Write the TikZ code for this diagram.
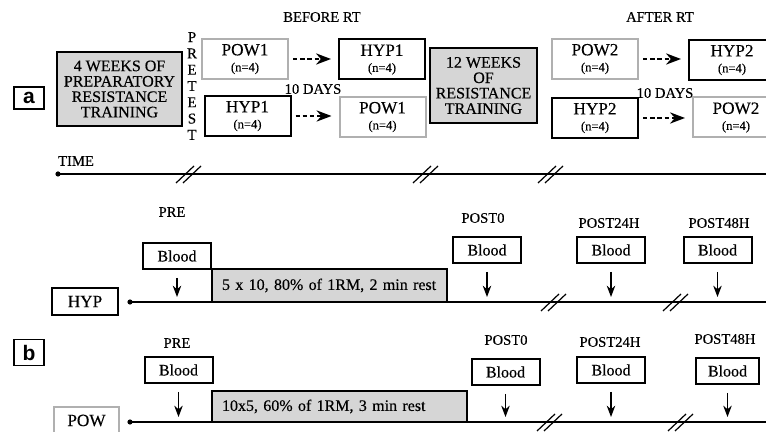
\documentclass[tikz,border=0pt]{standalone}
\usepackage{fontspec}
\setmainfont{Liberation Serif}[FakeBold=0.35]
\newfontfamily\tagfont{Liberation Sans}
\usetikzlibrary{arrows.meta}
\definecolor{trainc}{HTML}{D6D6D6}
\definecolor{powc}{HTML}{B0B0B0}

\begin{document}
\begin{tikzpicture}[x=0.5pt, y=-0.5pt, >=Stealth,
      grp/.style={draw, line width=1pt, minimum width=43pt, minimum height=20pt,
                  align=center, inner sep=0pt, font=\fontsize{8.6}{9}\selectfont},
      powgrp/.style={grp, draw=powc},
      train/.style={draw, line width=1.3pt, fill=trainc, align=center, inner sep=0pt,
                    font=\fontsize{8}{7.7}\selectfont},
      blood/.style={draw, line width=1pt, minimum width=34pt, minimum height=13pt,
                    inner sep=0pt, font=\fontsize{8}{8}\selectfont},
      sess/.style={draw, line width=1.3pt, fill=trainc, inner xsep=5pt, inner ysep=0pt,
                   align=left, font=\fontsize{8}{8}\selectfont},
      lbl/.style={font=\fontsize{7.3}{7.3}\selectfont, inner sep=0pt},
      tag/.style={draw, line width=0.9pt, minimum width=15pt, inner sep=0pt,
                  font=\tagfont\bfseries\fontsize{10.5}{10.5}\selectfont},
      dot/.style={circle, fill, inner sep=0pt, minimum size=2.6pt},
      axis/.style={line width=0.6pt},
      wait/.style={->, line width=1pt, dash pattern=on 2.2pt off 1.4pt,
                   shorten <=2pt, shorten >=3.5pt},
      drop/.style={->, line width=0.6pt, shorten <=4pt, shorten >=2.5pt},
      brk/.style={line width=0.6pt}]
    \useasboundingbox (0,0) rectangle (766,432);
    \clip (0,0) rectangle (766,432);
    \newcommand{\nn}{\\[-1pt]{\fontsize{6.3}{7}\selectfont (n=4)}}

    % panel a: study design
    \node[tag, minimum height=11pt] (ta) at (29,98) {a};
    \node[train, minimum width=62.5pt, minimum height=37pt] (prep) at (119.5,89)
      {4 WEEKS OF\\PREPARATORY\\RESISTANCE\\TRAINING};
    \node[lbl, align=center, font=\fontsize{7.5}{8.15}\selectfont] (pretest) at (192,86)
      {P\\R\\E\\T\\E\\S\\T};
    \node[lbl] (before) at (322,17) {BEFORE RT};
    \node[lbl] (after) at (660,17) {AFTER RT};

    \node[powgrp] (pa1) at (245,59) {POW1\nn};
    \node[grp]    (hb1) at (382,59.5) {HYP1\nn};
    \node[grp]    (ha1) at (247.5,116) {HYP1\nn};
    \node[powgrp] (pb1) at (382.5,117) {POW1\nn};
    \node[lbl] (days1) at (313,89) {10 DAYS};
    \draw[wait] (pa1.east) -- (pa1.east -| hb1.west);
    \draw[wait] (ha1.east) -- (ha1.east -| pb1.west);

    \node[train, minimum width=53.5pt, minimum height=37.5pt] (rt) at (483.5,85.5)
      {12 WEEKS\\OF\\RESISTANCE\\TRAINING};

    \node[powgrp] (pa2) at (595,59) {POW2\nn};
    \node[grp]    (hb2) at (732,60) {HYP2\nn};
    \node[grp]    (ha2) at (595,118) {HYP2\nn};
    \node[powgrp] (pb2) at (736,117.5) {POW2\nn};
    \node[lbl] (days2) at (665,93) {10 DAYS};
    \draw[wait] (pa2.east) -- (pa2.east -| hb2.west);
    \draw[wait] (ha2.east) -- (ha2.east -| pb2.west);

    \node[lbl] (time) at (76,161) {TIME};
    \node[dot] (tdot) at (58,174) {};
    \coordinate (tend) at (790,174);
    \draw[axis] (tdot.center) -- (tend);
    \foreach \x in {188,425,550}
      \draw[brk] (\x-12,183) -- ++(18,-17) (\x-5,183) -- ++(18,-17);

    % panel b: HYP session
    \node[grp, minimum width=33pt, minimum height=13.5pt] (hyp) at (85,301.5) {HYP};
    \node[dot] (hdot) at (130,302) {};
    \coordinate (hend) at (790,302);
    \draw[axis] (hdot.center) -- (hend);
    \foreach \x in {553,675}
      \draw[brk] (\x-12,311) -- ++(18,-17) (\x-5,311) -- ++(18,-17);
    \node[sess, text width=107.5pt, minimum height=16.5pt] (hses) at (329.5,285.5)
      {5 x 10, 80\% of 1RM, 2 min rest};

    \node[lbl] at (172,212) {PRE};
    \node[lbl] at (483,218) {POST0};
    \node[lbl] at (609,223) {POST24H};
    \node[lbl] at (719,223) {POST48H};
    \node[blood] (hpre) at (177,256) {Blood};
    \node[blood] (hp0)  at (487,250) {Blood};
    \node[blood] (hp24) at (611,250) {Blood};
    \node[blood] (hp48) at (717.5,250) {Blood};
    \foreach \b in {hpre,hp0,hp24,hp48}
      \draw[drop] (\b) -- (\b |- hdot);

    % panel b: POW session
    \node[tag, minimum height=13pt] (tb) at (29,352.5) {b};
    \node[powgrp, minimum width=32.5pt, minimum height=13.5pt] (pow) at (86.5,420.5) {POW};
    \node[dot] (pdot) at (130,422) {};
    \coordinate (pend) at (790,422);
    \draw[axis] (pdot.center) -- (pend);
    \foreach \x in {549,680}
      \draw[brk] (\x-12,431) -- ++(18,-17) (\x-5,431) -- ++(18,-17);
    \node[sess, text width=117.5pt, minimum height=15.5pt] (pses) at (339.5,406.5)
      {10x5, 60\% of 1RM, 3 min rest};

    \node[lbl] at (177,343) {PRE};
    \node[lbl] at (506,340) {POST0};
    \node[lbl] at (610,342) {POST24H};
    \node[lbl] at (725,339) {POST48H};
    \node[blood] (ppre) at (178.5,370) {Blood};
    \node[blood] (pp0)  at (505.5,372) {Blood};
    \node[blood] (pp24) at (611,370) {Blood};
    \node[blood, minimum width=31.5pt] (pp48) at (727.5,371) {Blood};
    \foreach \b in {ppre,pp0,pp24,pp48}
      \draw[drop] (\b) -- (\b |- pdot);
  \end{tikzpicture}
\end{document}
